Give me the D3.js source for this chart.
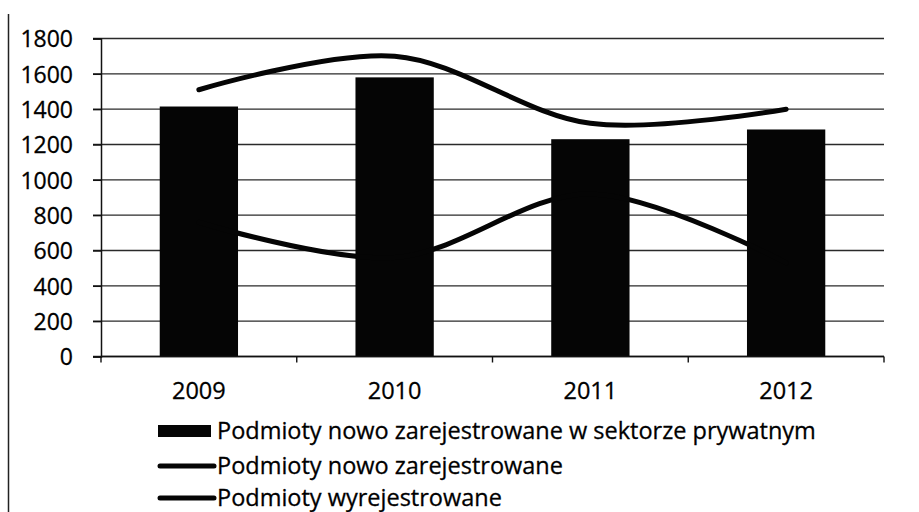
<!DOCTYPE html>
<html>
<head>
<meta charset="utf-8">
<script src="https://cdn.jsdelivr.net/npm/d3@7"></script>
<style>
  html, body { margin: 0; padding: 0; background: #fff; }
  svg { display: block; }
</style>
</head>
<body>
<script>
// dane
var lata = ["2009", "2010", "2011", "2012"];
var prywatne = [1415, 1580, 1230, 1285];      // słupki
var nowoZarej = [1510, 1700, 1320, 1400];     // linia górna
var wyrejestr = [760, 560, 920, 530];         // linia dolna
var yTicks = [0, 200, 400, 600, 800, 1000, 1200, 1400, 1600, 1800];
var legendaTxt = [
  "Podmioty nowo zarejestrowane w sektorze prywatnym",
  "Podmioty nowo zarejestrowane",
  "Podmioty wyrejestrowane"
];

var width = 919, height = 512;
var fontFam = "'Open Sans', Lato, sans-serif";

var svg = d3.select("body").append("svg")
  .attr("width", width)
  .attr("height", height)
  .attr("font-family", fontFam);

// ramka po lewej (krawędź skanu)
svg.append("line")
  .attr("x1", 8.5).attr("x2", 8.5)
  .attr("y1", 14).attr("y2", height)
  .attr("stroke", "#222").attr("stroke-width", 1.5);

var x = d3.scaleBand()
  .domain(lata)
  .range([101, 884])
  .paddingInner(0.6)
  .paddingOuter(0.3);

var y = d3.scaleLinear()
  .domain([0, 1800])
  .range([356.5, 38.5]);

// linie siatki
svg.append("g")
  .selectAll("line")
  .data(yTicks)
  .join("line")
    .attr("x1", 93).attr("x2", 884)
    .attr("y1", d => y(d)).attr("y2", d => y(d))
    .attr("stroke", "#2a2a2a")
    .attr("stroke-width", 1.4);

// oś Y
var osY = svg.append("g")
  .attr("transform", "translate(101,0)")
  .call(d3.axisLeft(y).tickValues(yTicks).tickSize(8).tickPadding(20).tickFormat(d3.format("d")));
osY.select(".domain").attr("stroke", "#111").attr("stroke-width", 1.5);
osY.selectAll(".tick line").attr("stroke", "#111").attr("stroke-width", 1.4);
osY.selectAll("text")
  .attr("font-family", fontFam)
  .attr("font-size", 23)
  .attr("fill", "#000")
  .attr("stroke", "#000").attr("stroke-width", 0.3)
  .attr("dy", "0.36em");

// słupki
svg.append("g")
  .selectAll("rect")
  .data(prywatne)
  .join("rect")
    .attr("x", (d, i) => x(lata[i]))
    .attr("y", d => y(d))
    .attr("width", x.bandwidth())
    .attr("height", d => y(0) - y(d))
    .attr("fill", "#050505");

// oś X – linia i kreski na granicach kategorii
svg.append("line")
  .attr("x1", 101).attr("x2", 884)
  .attr("y1", y(0)).attr("y2", y(0))
  .attr("stroke", "#111").attr("stroke-width", 1.6);

var granice = lata.map(d => x(d) + x.bandwidth() / 2 - x.step() / 2);
granice.push(x(lata[lata.length - 1]) + x.bandwidth() / 2 + x.step() / 2);
svg.append("g")
  .selectAll("line")
  .data(granice)
  .join("line")
    .attr("x1", d => d).attr("x2", d => d)
    .attr("y1", y(0)).attr("y2", y(0) + 6)
    .attr("stroke", "#111").attr("stroke-width", 1.4);

svg.append("g")
  .selectAll("text")
  .data(lata)
  .join("text")
    .attr("x", d => x(d) + x.bandwidth() / 2)
    .attr("y", 399)
    .attr("text-anchor", "middle")
    .attr("font-size", 23.5)
    .attr("fill", "#000")
    .attr("stroke", "#000").attr("stroke-width", 0.3)
    .text(d => d);

// linie
var linia = d3.line()
  .x((d, i) => x(lata[i]) + x.bandwidth() / 2)
  .y(d => y(d))
  .curve(d3.curveCatmullRom.alpha(0.5));

[nowoZarej, wyrejestr].forEach(function(seria) {
  svg.append("path")
    .datum(seria)
    .attr("d", linia)
    .attr("fill", "none")
    .attr("stroke", "#050505")
    .attr("stroke-width", 5)
    .attr("stroke-linecap", "round");
});

// legenda
var legY = [431, 466, 498];
var leg = svg.append("g");
leg.append("rect")
  .attr("x", 158).attr("y", 425)
  .attr("width", 53).attr("height", 12)
  .attr("fill", "#050505");
[1, 2].forEach(function(i) {
  leg.append("line")
    .attr("x1", 160).attr("x2", 214)
    .attr("y1", legY[i]).attr("y2", legY[i])
    .attr("stroke", "#050505")
    .attr("stroke-width", 5)
    .attr("stroke-linecap", "round");
});
leg.selectAll("text")
  .data(legendaTxt)
  .join("text")
    .attr("x", 217)
    .attr("y", (d, i) => legY[i])
    .attr("dy", "0.36em")
    .attr("font-size", 23.5)
    .attr("fill", "#000")
    .attr("stroke", "#000").attr("stroke-width", 0.3)
    .text(d => d);
</script>
</body>
</html>
